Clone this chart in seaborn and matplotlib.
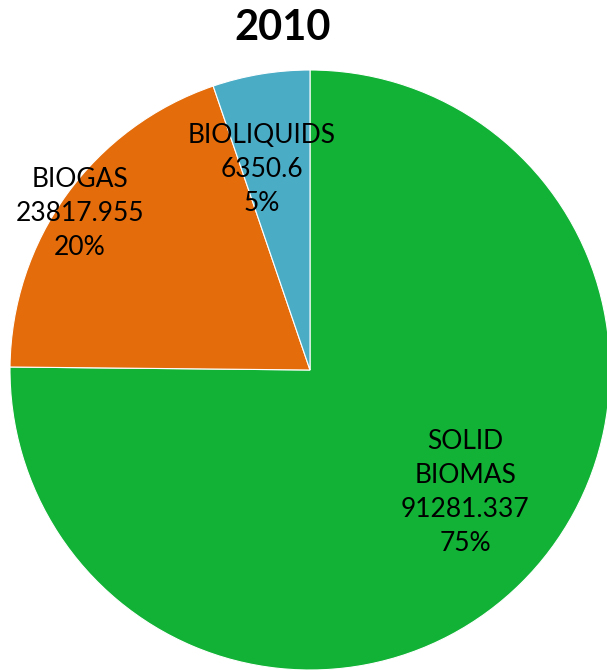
import matplotlib.pyplot as plt
import seaborn as sns

sns.set_theme(style="white")
plt.rcParams['font.family'] = ['Lato', 'DejaVu Sans']

# Dados do gráfico
categorias = ['SOLID\nBIOMAS', 'BIOGAS', 'BIOLIQUIDS']
valores = [91281.337, 23817.955, 6350.6]
valores_txt = ['91281.337', '23817.955', '6350.6']
cores = ['#11B236', '#E46C0A', '#4BACC6']
titulo = '2010'

# posições dos rótulos (coordenadas do eixo)
pos_rotulos = [(0.517, -0.407), (-0.767, 0.523), (-0.16, 0.667)]

fig = plt.figure(figsize=(6.07, 6.70), dpi=100)
ax = fig.add_axes([10 / 607, 0, 600 / 607, 600 / 670])

wedges, _ = ax.pie(valores, colors=cores, startangle=90, counterclock=False,
                   radius=1, wedgeprops=dict(edgecolor='white', linewidth=0.8))
for w in wedges:
    w.set_clip_on(False)

total = sum(valores)
for cat, v, vt, (x, y) in zip(categorias, valores, valores_txt, pos_rotulos):
    ax.text(x, y, f"{cat}\n{vt}\n{round(100 * v / total)}%", ha='center', va='center',
            fontsize=19, color='black', linespacing=1.45)

ax.set_xlim(-1, 1)
ax.set_ylim(-1, 1)
ax.set_aspect('equal')
ax.axis('off')

fig.text(283 / 607, 1 - 28 / 670, titulo, ha='center', va='center',
         fontsize=30, fontweight='bold', color='black')

fig.savefig('out.png', dpi=100)
